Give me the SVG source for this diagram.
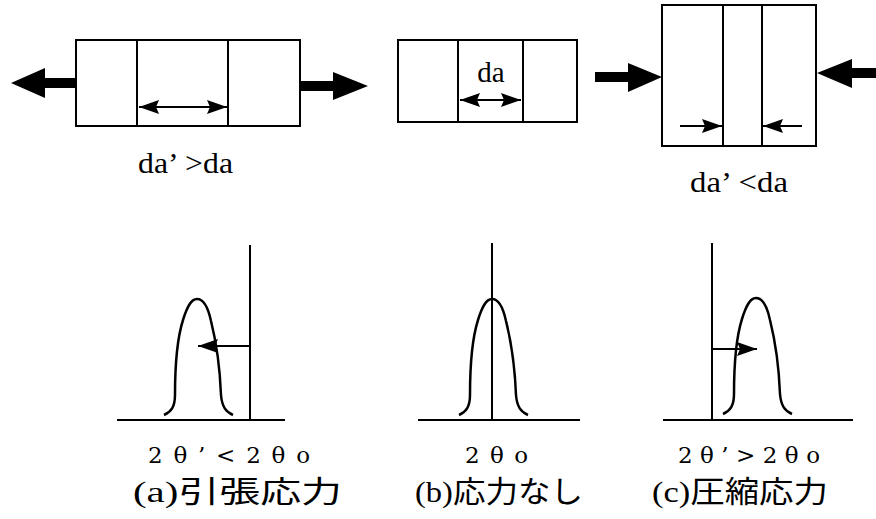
<svg xmlns="http://www.w3.org/2000/svg" width="876" height="519" viewBox="0 0 876 519">
<defs>
<style>
.box{fill:#fff;stroke:#000;stroke-width:2}
.ln{fill:none;stroke:#000;stroke-width:2}
.curve{fill:none;stroke:#000;stroke-width:2.5}
.arr{fill:none;stroke:#000;stroke-width:2}
.big{fill:#000;stroke:none}
text{fill:#000}
.ser{font-family:'Liberation Serif','Times New Roman',serif}
.th{font-family:'DejaVu Serif','Liberation Serif',serif}
.cjk{font-family:'Liberation Serif','Noto Sans CJK JP',serif}
</style>
<marker id="ah" viewBox="0 0 20 14" refX="20" refY="7" markerWidth="20" markerHeight="14" markerUnits="userSpaceOnUse" orient="auto-start-reverse">
<path d="M0,0 L20,7 L0,14 L3,7 Z" fill="#000"/>
</marker>
<path id="bell" d="M-33,116 C-26,113 -22,108 -22,96 C-22,70 -20,40 -14,21 C-10,8 -6,0 0,0 C7,0 11,8 14,22 C19,42 23,70 24,96 C25,108 29,113 36,116"/>
</defs>
<rect width="876" height="519" fill="#fff"/>

<g id="box-tension">
<rect class="box" x="76" y="40" width="224" height="86"/>
<line class="ln" x1="137" y1="40" x2="137" y2="126"/>
<line class="ln" x1="228" y1="40" x2="228" y2="126"/>
<text class="ser" font-size="29" x="138" y="173" textLength="95" lengthAdjust="spacingAndGlyphs">da’<tspan dx="6">&gt;da</tspan></text>
</g>

<g id="box-none">
<rect class="box" x="398" y="40" width="179" height="82"/>
<line class="ln" x1="458" y1="40" x2="458" y2="122"/>
<line class="ln" x1="523" y1="40" x2="523" y2="122"/>
<text class="ser" font-size="29" x="491" y="82" text-anchor="middle">da</text>
</g>

<g id="box-compression">
<rect class="box" x="662" y="5" width="154" height="141"/>
<line class="ln" x1="723" y1="5" x2="723" y2="146"/>
<line class="ln" x1="762" y1="5" x2="762" y2="146"/>
<text class="ser" font-size="29" x="690" y="192" textLength="98" lengthAdjust="spacingAndGlyphs">da’<tspan dx="6">&lt;da</tspan></text>
</g>

<g id="chart-a">
<line class="ln" x1="250" y1="245" x2="250" y2="420"/>
<line class="ln" x1="117" y1="420" x2="285" y2="420"/>
<use href="#bell" class="curve" transform="translate(197,299)"/>
<text class="th" font-size="23" x="148" y="463" textLength="162" lengthAdjust="spacing">2θ’&lt;2θo</text>
<text class="cjk" font-size="30" x="133" y="502" textLength="209" lengthAdjust="spacingAndGlyphs">(a)引張応力</text>
</g>

<g id="chart-b">
<line class="ln" x1="492" y1="243" x2="492" y2="420"/>
<line class="ln" x1="418" y1="420" x2="580" y2="420"/>
<use href="#bell" class="curve" transform="translate(492,299)"/>
<text class="th" font-size="23" x="465" y="463" textLength="63" lengthAdjust="spacing">2θo</text>
<text class="cjk" font-size="30" x="415" y="502" textLength="168" lengthAdjust="spacingAndGlyphs">(b)応力なし</text>
</g>

<g id="chart-c">
<line class="ln" x1="712" y1="243" x2="712" y2="420"/>
<line class="ln" x1="663" y1="420" x2="853" y2="420"/>
<use href="#bell" class="curve" transform="translate(756,298)"/>
<text class="th" font-size="23" x="678" y="463" textLength="142" lengthAdjust="spacing">2θ’&gt;2θo</text>
<text class="cjk" font-size="30" x="652" y="502" textLength="176" lengthAdjust="spacingAndGlyphs">(c)圧縮応力</text>
</g>

<g id="connectors">
<polygon class="big" points="76,78 45,78 45,68 11,83 45,98 45,88 76,88"/>
<polygon class="big" points="300,81 333,81 333,72 368,86 333,100 333,91 300,91"/>
<polygon class="big" points="595,72 628,72 628,63 662,77 628,92 628,82 595,82"/>
<polygon class="big" points="876,68 852,68 852,59 817,73 852,88 852,78 876,78"/>
<line class="arr" x1="139" y1="107" x2="227" y2="107" marker-start="url(#ah)" marker-end="url(#ah)"/>
<line class="arr" x1="460" y1="100" x2="521" y2="100" marker-start="url(#ah)" marker-end="url(#ah)"/>
<line class="arr" x1="680" y1="126" x2="722" y2="126" marker-end="url(#ah)"/>
<line class="arr" x1="802" y1="126" x2="763" y2="126" marker-end="url(#ah)"/>
<line class="arr" x1="250" y1="346" x2="198" y2="346" marker-end="url(#ah)"/>
<line class="arr" x1="712" y1="349" x2="757" y2="349" marker-end="url(#ah)"/>
</g>
</svg>
